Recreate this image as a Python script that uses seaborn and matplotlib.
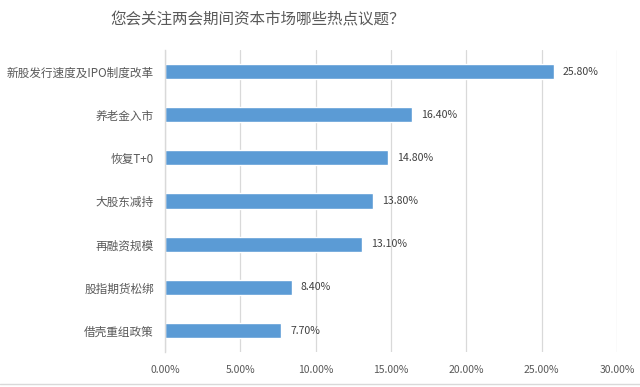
import matplotlib
matplotlib.use("Agg")
import matplotlib.pyplot as plt
import seaborn as sns
import pandas as pd
from matplotlib.lines import Line2D
from matplotlib.ticker import FuncFormatter, MultipleLocator

# Data
topics = ['新股发行速度及IPO制度改革', '养老金入市', '恢复T+0', '大股东减持',
          '再融资规模', '股指期货松绑', '借壳重组政策']
shares = [25.8, 16.4, 14.8, 13.8, 13.1, 8.4, 7.7]
title = '您会关注两会期间资本市场哪些热点议题？'

df = pd.DataFrame({'topic': topics, 'share': shares})

sns.set_style('white')
plt.rcParams['font.family'] = ['Noto Sans CJK SC', 'DejaVu Sans']

text_color = '#595959'
grid_color = '#d9d9d9'
bar_color = '#5b9bd5'

fig = plt.figure(figsize=(6.4, 3.87), dpi=100)
ax = fig.add_axes([0.258, 0.090, 0.706, 0.781])

sns.barplot(data=df, x='share', y='topic', color=bar_color, width=0.35,
            saturation=1, ax=ax)

ax.set_xlim(0, 30)
ax.xaxis.set_major_locator(MultipleLocator(5))
ax.xaxis.set_major_formatter(FuncFormatter(lambda v, _: f'{v:.2f}%'))
ax.grid(axis='x', color=grid_color, linewidth=0.9)
ax.set_axisbelow(True)
for s in ['top', 'right', 'bottom']:
    ax.spines[s].set_visible(False)
ax.spines['left'].set_color(grid_color)
ax.spines['left'].set_linewidth(1.0)
ax.tick_params(axis='both', length=0, colors=text_color)
ax.tick_params(axis='x', labelsize=7.5, pad=9)
ax.tick_params(axis='y', labelsize=8.4, pad=8)
ax.set_xlabel('')
ax.set_ylabel('')

# value labels
for i, v in enumerate(shares):
    ax.text(v + 0.6, i, f'{v:.2f}%', va='center', ha='left',
            fontsize=7.6, color='#404040')

# title sits left of centre in the reference
fig.text(0.403, 0.948, title, ha='center', va='center', fontsize=11.2,
         color=text_color)

# thin frame line at the bottom of the picture
fig.add_artist(Line2D([0, 1], [0.008, 0.008], color=grid_color, linewidth=1))

fig.savefig('out.png', dpi=100, facecolor='white')
